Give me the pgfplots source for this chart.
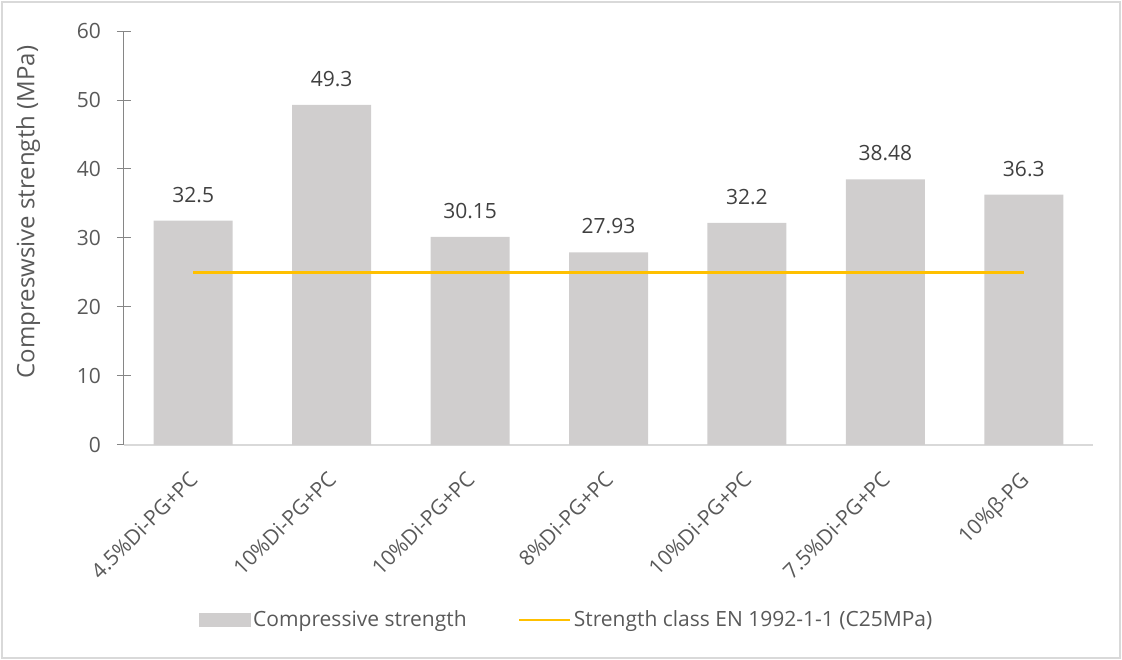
\documentclass[border=0pt]{standalone}
\usepackage{fontspec}
\setmainfont{Open Sans}
\usepackage{pgfplots}
\pgfplotsset{compat=1.18}

\definecolor{barfill}{HTML}{D0CECE}
\definecolor{goldline}{HTML}{FFC000}
\definecolor{labelgray}{HTML}{595959}
\definecolor{valgray}{HTML}{404040}
\definecolor{yaxisgray}{HTML}{868686}
\definecolor{xaxisgray}{HTML}{D9D9D9}
\definecolor{framegray}{HTML}{D9D9D9}

\newcommand{\chartfont}{\fontsize{21}{25}\selectfont}
\newcommand{\titlefont}{\fontsize{24}{28}\selectfont}

\begin{document}
\chartfont
\begin{tikzpicture}
  % page area and outer chart frame
  \useasboundingbox (-124pt,-215pt) rectangle (998pt,445pt);
  \draw[framegray, line width=1.3pt] (-122pt,-213pt) rectangle (996pt,443pt);

  \begin{axis}[
    at={(0pt,0pt)}, anchor=south west,
    scale only axis, width=969pt, height=414pt,
    xmin=-0.5, xmax=6.5, ymin=0, ymax=60,
    ytick={0,10,20,30,40,50,60},
    xtick={0,1,2,3,4,5,6},
    xticklabels={4.5\%Di-PG+PC, 10\%Di-PG+PC, 10\%Di-PG+PC, 8\%Di-PG+PC,
                 10\%Di-PG+PC, 7.5\%Di-PG+PC, 10\%β-PG},
    axis x line*=bottom, axis y line*=left,
    x axis line style={draw=xaxisgray, line width=1.4pt},
    y axis line style={draw=yaxisgray, line width=1pt},
    xtick style={draw=none},
    ytick style={draw=yaxisgray, line width=1pt},
    major tick length=14pt, tick align=center,
    /pgf/number format/assume math mode=true,
    tick label style={font=\chartfont, text=labelgray},
    yticklabel style={anchor=east, inner sep=0pt, xshift=-16pt},
    xticklabel style={xshift=-5pt, yshift=-18pt, rotate=45, anchor=north east, inner sep=0pt},
    ylabel={Compreswsive strength (MPa)},
    ylabel style={font=\titlefont, text=labelgray,
                  at={(axis description cs:-0.0990,0.5628)}, anchor=center},
    legend columns=2,
    legend style={at={(axis description cs:0.0769,-0.4227)}, anchor=west,
                  draw=none, fill=none, inner sep=0pt,
                  font=\chartfont, text=labelgray,
                  nodes={inner sep=2.5pt},
                  /tikz/every even column/.append style={column sep=49pt}},
    clip=false,
  ]
    % measured compressive strength of each mix
    \addplot[ybar, bar width=79pt, bar shift=0pt, fill=barfill, draw=none,
             point meta=explicit symbolic,
             nodes near coords,
             nodes near coords style={anchor=south, inner sep=0pt, yshift=18pt,
                                      font=\chartfont, text=valgray},
             legend image code/.code={\fill[barfill] (0pt,-7pt) rectangle (52pt,7pt);}]
      coordinates {
        (0,32.5)  [32.5]
        (1,49.3)  [49.3]
        (2,30.15) [30.15]
        (3,27.93) [27.93]
        (4,32.2)  [32.2]
        (5,38.48) [38.48]
        (6,36.3)  [36.3]
      };
    \addlegendentry{Compressive strength}

    % C25 strength class threshold
    \addplot[goldline, line width=2.2pt, mark=none,
             legend image code/.code={\draw[goldline, line width=2.2pt] (0pt,0pt) -- (51pt,0pt);}]
      coordinates {(0,25) (6,25)};
    \addlegendentry{Strength class EN 1992-1-1 (C25MPa)}
  \end{axis}
\end{tikzpicture}
\end{document}
